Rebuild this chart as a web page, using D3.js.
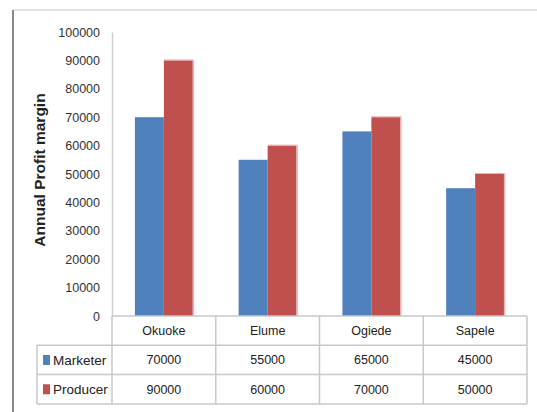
<!DOCTYPE html>
<html>
<head>
<meta charset="utf-8">
<script src="https://cdn.jsdelivr.net/npm/d3@7"></script>
<style>
  html, body { margin: 0; padding: 0; background: #fff; }
  svg { display: block; }
  text { font-family: "Liberation Sans Narrow", "Liberation Sans", Arial, sans-serif; fill: #222; }
</style>
</head>
<body>
<svg id="chart" width="537" height="412"></svg>
<script>
// Annual profit margin by location
const categories = ["Okuoke", "Elume", "Ogiede", "Sapele"];
const seriesNames = ["Marketer", "Producer"];
const marketer = [70000, 55000, 65000, 45000];
const producer = [90000, 60000, 70000, 50000];
const yTicks = [0, 10000, 20000, 30000, 40000, 50000, 60000, 70000, 80000, 90000, 100000];
const colors = ["#4F81BD", "#C0504D"];

const series = [marketer, producer];
const svg = d3.select("#chart");

const plot = { left: 112, right: 527, top: 32, bottom: 316 };
const rowH = 29.3;

// outer frame
svg.append("line").attr("x1", 13).attr("x2", 537).attr("y1", 10).attr("y2", 10)
  .attr("stroke", "#e3e3e3").attr("stroke-width", 2);
svg.append("line").attr("x1", 13).attr("x2", 13).attr("y1", 10).attr("y2", 412)
  .attr("stroke", "#8a8a8a").attr("stroke-width", 2);

const x = d3.scaleBand().domain(categories).range([plot.left, plot.right]);
const xs = d3.scaleBand().domain(seriesNames).range([0, x.bandwidth()]).paddingInner(0).paddingOuter(0.79);
const y = d3.scaleLinear().domain([0, 100000]).range([plot.bottom, plot.top]);

// y axis
const yAxis = d3.axisLeft(y).tickValues(yTicks).tickSize(0).tickPadding(12).tickFormat(d3.format("d"));
const gy = svg.append("g").attr("transform", `translate(${plot.left},0)`).call(yAxis);
gy.select(".domain").attr("stroke", "#cfcfcf").attr("stroke-width", 1.5);
gy.selectAll("text").attr("font-size", 12.5).style("fill", "#333");

// y title
svg.append("text")
  .attr("transform", `translate(45,170) rotate(-90)`)
  .attr("text-anchor", "middle")
  .attr("font-size", 15.5).attr("font-weight", "bold")
  .style("font-family", "'Liberation Sans', Arial, sans-serif")
  .text("Annual Profit margin");

// bars
series.forEach((vals, si) => {
  const g = svg.append("g");
  g.selectAll("rect").data(vals).join("rect")
    .attr("x", (d, i) => x(categories[i]) + xs(seriesNames[si]))
    .attr("y", d => y(d))
    .attr("width", xs.bandwidth())
    .attr("height", d => y(0) - y(d))
    .attr("fill", colors[si]);
  if (si === 1) {
    // soft light edge on the red columns
    g.selectAll("line").data(vals).join("line")
      .attr("x1", (d, i) => x(categories[i]) + xs(seriesNames[si]) + xs.bandwidth() + 0.5)
      .attr("x2", (d, i) => x(categories[i]) + xs(seriesNames[si]) + xs.bandwidth() + 0.5)
      .attr("y1", d => y(d)).attr("y2", y(0))
      .attr("stroke", "#e8b4b3").attr("stroke-width", 1.5);
    g.selectAll("line.top").data(vals).join("line").attr("class", "top")
      .attr("x1", (d, i) => x(categories[i]) + xs(seriesNames[si]))
      .attr("x2", (d, i) => x(categories[i]) + xs(seriesNames[si]) + xs.bandwidth() + 1)
      .attr("y1", d => y(d) - 0.5).attr("y2", d => y(d) - 0.5)
      .attr("stroke", "#e8b4b3").attr("stroke-width", 1);
  }
});

// data table
const tableLeft = 37;
const gridColor = "#c8c8c8";
const t = svg.append("g");
const rowsY = [plot.bottom, plot.bottom + rowH, plot.bottom + 2 * rowH, plot.bottom + 3 * rowH];
// horizontal rules
t.append("line").attr("x1", plot.left).attr("x2", plot.right).attr("y1", rowsY[0]).attr("y2", rowsY[0]).attr("stroke", gridColor).attr("stroke-width", 1.5);
[1, 2, 3].forEach(r => {
  t.append("line").attr("x1", tableLeft).attr("x2", plot.right).attr("y1", rowsY[r]).attr("y2", rowsY[r]).attr("stroke", gridColor).attr("stroke-width", 1.5);
});
// vertical rules
t.append("line").attr("x1", tableLeft).attr("x2", tableLeft).attr("y1", rowsY[1]).attr("y2", rowsY[3]).attr("stroke", gridColor).attr("stroke-width", 1.5);
categories.forEach(c => {
  t.append("line").attr("x1", x(c)).attr("x2", x(c)).attr("y1", rowsY[0]).attr("y2", rowsY[3]).attr("stroke", gridColor).attr("stroke-width", 1.5);
});
t.append("line").attr("x1", plot.right).attr("x2", plot.right).attr("y1", rowsY[0]).attr("y2", rowsY[3]).attr("stroke", gridColor).attr("stroke-width", 1.5);

// category labels
t.selectAll("text.cat").data(categories).join("text").attr("class", "cat")
  .attr("x", d => x(d) + x.bandwidth() / 2).attr("y", rowsY[0] + rowH / 2 + 4.5)
  .attr("text-anchor", "middle").attr("font-size", 12.5).text(d => d);

// series rows
series.forEach((vals, si) => {
  const cy = rowsY[si + 1] + rowH / 2;
  t.append("rect").attr("x", 43).attr("y", cy - 5).attr("width", 7).attr("height", 10).attr("fill", colors[si]);
  t.append("text").attr("x", 53).attr("y", cy + 5).attr("font-size", 13.5).text(seriesNames[si]);
  t.selectAll(`text.v${si}`).data(vals).join("text").attr("class", `v${si}`)
    .attr("x", (d, i) => x(categories[i]) + x.bandwidth() / 2).attr("y", cy + 4.5)
    .attr("text-anchor", "middle").attr("font-size", 12.5).text(d => d);
});
</script>
</body>
</html>
